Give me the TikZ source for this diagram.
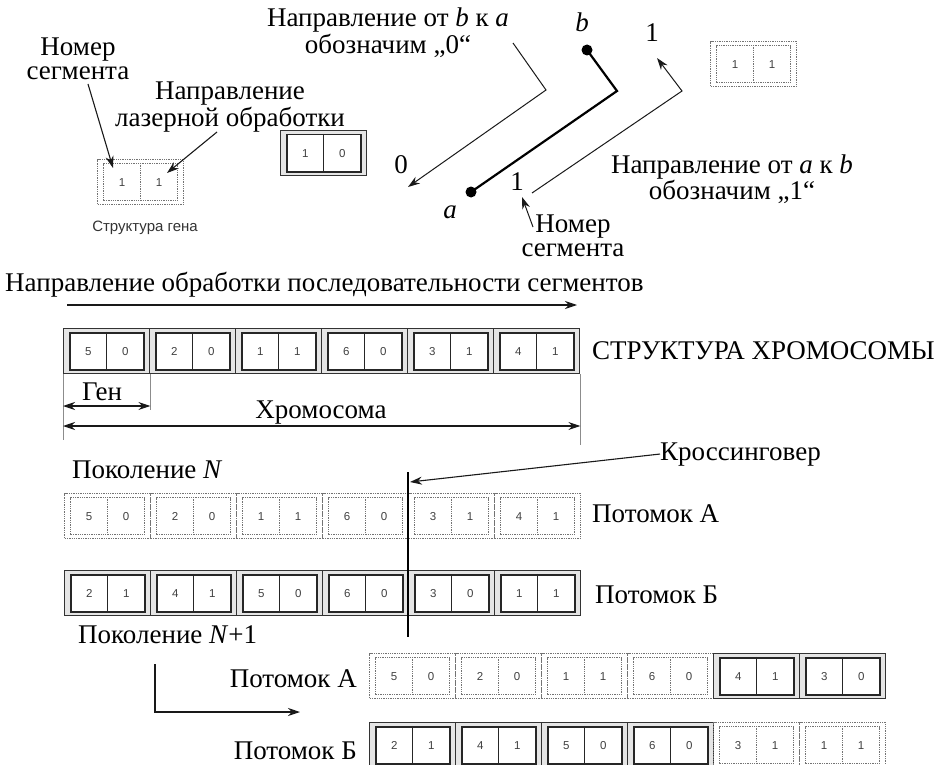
\documentclass[tikz,border=0pt]{standalone}
\usepackage{fontspec}
\setmainfont{Liberation Serif}
\newfontfamily\sansf{Liberation Sans}
\usetikzlibrary{arrows.meta}

% one gene: outer frame, inner frame, divider and the two digits
\newcommand{\genesolid}[5]{%
  \node[gs] (#1) at (#2,#3) {};
  \node[gsin] (#1i) at (#1.center) {};
  \draw[gsdiv] (#1i.north) -- (#1i.south);
  \node[digit] (#1l) at ([xshift=-18.5pt]#1i.center) {#4};
  \node[digit] (#1r) at ([xshift=18.5pt]#1i.center) {#5};}
\newcommand{\genedotted}[5]{%
  \node[gd] (#1) at (#2,#3) {};
  \node[gdin] (#1i) at (#1.center) {};
  \draw[gddiv] (#1i.north) -- (#1i.south);
  \node[digit] (#1l) at ([xshift=-18.5pt]#1i.center) {#4};
  \node[digit] (#1r) at ([xshift=18.5pt]#1i.center) {#5};}
% two centred lines, baseline of the first line at the node's base
\newcommand{\twolines}[2]{\begin{tabular}[t]{@{}c@{}}#1\\#2\end{tabular}}

\begin{document}
\begin{tikzpicture}[x=1pt,y=-1pt,
  lbl/.style={font=\fontsize{27}{27}\selectfont, inner sep=0pt},
  two/.style={font=\fontsize{27}{#1}\selectfont, inner sep=0pt, anchor=base},
  digit/.style={font=\sansf\fontsize{11.5}{12}\selectfont, text=black!75, inner sep=0pt},
  gs/.style={draw=black!80, line width=1.4pt, fill=black!10, minimum width=86pt,
             minimum height=45pt, inner sep=0pt, anchor=north west},
  gsin/.style={draw=black!85, line width=1.6pt, fill=white, minimum width=74pt,
             minimum height=37pt, inner sep=0pt},
  gsdiv/.style={draw=black!85, line width=1.3pt},
  gd/.style={draw=black!55, line width=1.3pt, densely dotted, minimum width=86pt,
             minimum height=45pt, inner sep=0pt, anchor=north west},
  gdin/.style={draw=black!55, line width=1.3pt, densely dotted, minimum width=74pt,
             minimum height=37pt, inner sep=0pt},
  gddiv/.style={draw=black!55, line width=1.3pt, densely dotted},
  arr/.style={draw=black!90, line width=1.1pt, -{Stealth[length=12pt,width=8pt]}},
  dbl/.style={draw=black!90, line width=1.1pt,
             {Stealth[length=12pt,width=8pt]}-{Stealth[length=12pt,width=8pt]}},
  dimline/.style={draw=black!45, line width=0.9pt},
  pathline/.style={draw=black, line width=2.2pt},
  enddot/.style={circle, fill=black, minimum size=11pt, inner sep=0pt},
]
\useasboundingbox (0,0) rectangle (934,765);

% ---- gene structure (top left)
\node[two=24pt] (nm) at (78,56) {\twolines{Номер}{сегмента}};
\node[two=25pt] (ld) at (230,100) {\twolines{Направление}{лазерной обработки}};
\genedotted{sg}{97}{159}{1}{1}
\node[font=\sansf\fontsize{15}{15}\selectfont, text=black!80, inner sep=0pt] (sgcap) at (145,228) {Структура гена};
\genesolid{gz}{280}{130}{1}{0}
\coordinate (nmA) at (88,84);
\coordinate (nmB) at (113,168);
\draw[arr] (nmA) -- (nmB);
\coordinate (ldA) at (217,132);
\coordinate (ldB) at (167,173);
\draw[arr] (ldA) -- (ldB);

% ---- segment a-b and the two directions
\node[two=23pt] (d0) at (388,27) {\twolines{Направление от \textit{b} к \textit{a}}{обозначим „0“}};
\coordinate (p0s) at (513,43);
\coordinate (p0m) at (546,90);
\coordinate (p0e) at (408,187);
\draw[arr, line width=1pt] (p0s) -- (p0m) -- (p0e);
\node[lbl] (zero) at (401,165) {0};

\node[lbl] (bl) at (582,22) {\textit{b}};
\node[enddot] (pb) at (587,50) {};
\node[enddot] (pa) at (471,192) {};
\coordinate (pm) at (617,91);
\draw[pathline] (pb.center) -- (pm) -- (pa.center);
\node[lbl] (al) at (450,212) {\textit{a}};

\coordinate (p1s) at (532,193);
\coordinate (p1m) at (682,91);
\coordinate (p1e) at (657,58);
\draw[arr, line width=1pt] (p1s) -- (p1m) -- (p1e);
\node[lbl] (one1) at (652,33) {1};
\node[lbl] (one2) at (517,182) {1};
\coordinate (snA) at (533,227);
\coordinate (snB) at (522,197);
\draw[arr, line width=1pt] (snA) -- (snB);
\node[two=24pt] (nms) at (573,232) {\twolines{Номер}{сегмента}};
\node[two=24pt] (d1) at (732,173) {\twolines{Направление от \textit{a} к \textit{b}}{обозначим „1“}};
\genedotted{tr}{710}{41}{1}{1}

% ---- chromosome structure
\node[lbl, anchor=base west] (proc) at (5,291) {Направление обработки последовательности сегментов};
\coordinate (pr0) at (67,305);
\coordinate (pr1) at (577,305);
\draw[arr] (pr0) -- (pr1);

\genesolid{c1}{63}{328}{5}{0}
\genesolid{c2}{63+86}{328}{2}{0}
\genesolid{c3}{63+86*2}{328}{1}{1}
\genesolid{c4}{63+86*3}{328}{6}{0}
\genesolid{c5}{63+86*4}{328}{3}{1}
\genesolid{c6}{63+86*5}{328}{4}{1}
\node[lbl, anchor=base west] (chs) at (592,359) {СТРУКТУРА ХРОМОСОМЫ};

\draw[dimline] (c1.south west) -- (c1.south west |- 0,440);
\draw[dimline] (c1.south east) -- (c1.south east |- 0,410);
\draw[dimline] (c6.south east) -- (c6.south east |- 0,445);
\draw[dbl] (c1.south west |- 0,406) -- (c1.south east |- 0,406);
\node[lbl, anchor=base] (gen) at (102,400) {Ген};
\draw[dbl] (c1.south west |- 0,426) -- (c6.south east |- 0,426);
\node[lbl, anchor=base] (chr) at (321,418) {Хромосома};

% ---- generation N
\node[lbl, anchor=base west] (genN) at (72,478) {Поколение \textit{N}};
\genedotted{n1}{64}{493}{5}{0}
\genedotted{n2}{64+86}{493}{2}{0}
\genedotted{n3}{64+86*2}{493}{1}{1}
\genedotted{n4}{64+86*3}{493}{6}{0}
\genedotted{n5}{64+86*4}{493}{3}{1}
\genedotted{n6}{64+86*5}{493}{4}{1}
\node[lbl, anchor=base west] (pA) at (592,522) {Потомок А};

\genesolid{b1}{64}{570}{2}{1}
\genesolid{b2}{64+86}{570}{4}{1}
\genesolid{b3}{64+86*2}{570}{5}{0}
\genesolid{b4}{64+86*3}{570}{6}{0}
\genesolid{b5}{64+86*4}{570}{3}{0}
\genesolid{b6}{64+86*5}{570}{1}{1}
\node[lbl, anchor=base west] (pB) at (595,603) {Потомок Б};

% ---- crossover point
\coordinate (xt) at (408,472);
\coordinate (xb) at (408,637);
\draw[draw=black, line width=2pt] (xt) -- (xb);
\node[lbl, anchor=base west] (cross) at (660,460) {Кроссинговер};
\coordinate (xa) at (410,482);
\draw[arr] (cross.west) -- (xa);

% ---- generation N+1
\node[lbl, anchor=base west] (genN1) at (78,643) {Поколение \textit{N}+1};
\coordinate (lA) at (155,664);
\coordinate (lB) at (155,712);
\coordinate (lC) at (300,712);
\draw[arr] (lA) -- (lB) -- (lC);

\node[lbl, anchor=base east] (cA) at (357,687) {Потомок А};
\genedotted{a1}{369}{653}{5}{0}
\genedotted{a2}{369+86}{653}{2}{0}
\genedotted{a3}{369+86*2}{653}{1}{1}
\genedotted{a4}{369+86*3}{653}{6}{0}
\genesolid{a5}{369+86*4}{653}{4}{1}
\genesolid{a6}{369+86*5}{653}{3}{0}

\node[lbl, anchor=base east] (cB) at (357,759) {Потомок Б};
\genesolid{e1}{369}{722}{2}{1}
\genesolid{e2}{369+86}{722}{4}{1}
\genesolid{e3}{369+86*2}{722}{5}{0}
\genesolid{e4}{369+86*3}{722}{6}{0}
\genedotted{e5}{369+86*4}{722}{3}{1}
\genedotted{e6}{369+86*5}{722}{1}{1}
\end{tikzpicture}
\end{document}
